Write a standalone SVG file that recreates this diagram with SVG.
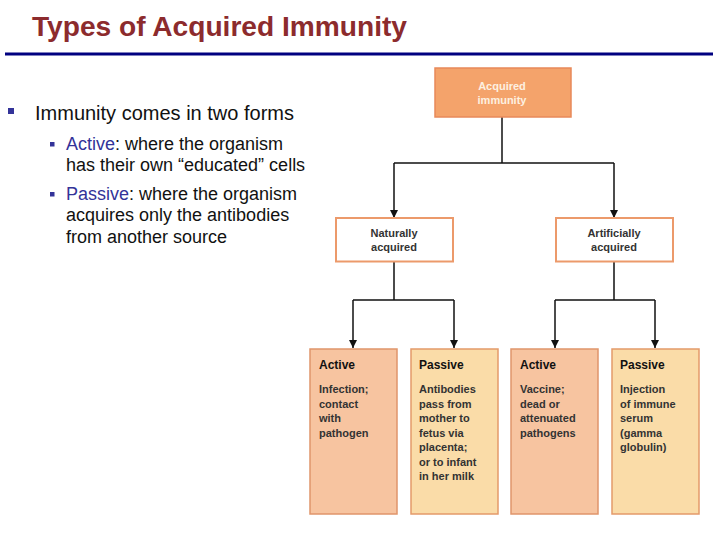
<svg xmlns="http://www.w3.org/2000/svg" width="720" height="540" viewBox="0 0 720 540">
<defs>
<marker id="arr" viewBox="0 0 10 10" refX="10" refY="5" markerWidth="8" markerHeight="8" markerUnits="userSpaceOnUse" orient="auto">
<path d="M0,0 L10,5 L0,10 Z" fill="#111"/>
</marker>
<style>
.t{font-family:"Liberation Sans",Arial,sans-serif}
.title{font-size:27px;font-weight:bold;fill:#8C2B2D}
.b1{font-size:20px;fill:#111}
.b2{font-size:18px;fill:#111}
.em{fill:#333399}
.mid{font-size:11px;font-weight:bold;fill:#333;text-anchor:middle}
.top{font-size:11px;font-weight:bold;fill:#FDF0E0;text-anchor:middle}
.hd{font-size:12px;font-weight:bold;fill:#111}
.bd{font-size:11px;font-weight:bold;fill:#333}
.con{fill:none;stroke:#111;stroke-width:1.5}
.act{fill:#F7C4A0;stroke:#E0956B;stroke-width:1.5}
.pas{fill:#FADCA8;stroke:#E49A6A;stroke-width:1.5}
</style>
</defs>
<rect width="720" height="540" fill="#fff"/>
<text class="t title" x="32" y="36" textLength="375" lengthAdjust="spacingAndGlyphs">Types of Acquired Immunity</text>
<rect x="5" y="52.5" width="708" height="3" fill="#000080"/>
<g id="bullets">
<rect x="8" y="108" width="6" height="6" fill="#333399"/>
<text class="t b1" x="35" y="120">Immunity comes in two forms</text>
<rect x="50" y="142" width="4.5" height="4.5" fill="#333399"/>
<text class="t b2" x="66" y="150"><tspan class="em">Active</tspan>: where the organism</text>
<text class="t b2" x="66" y="171">has their own “educated” cells</text>
<rect x="50" y="192" width="4.5" height="4.5" fill="#333399"/>
<text class="t b2" x="66" y="200"><tspan class="em">Passive</tspan>: where the organism</text>
<text class="t b2" x="66" y="221">acquires only the antibodies</text>
<text class="t b2" x="66" y="243">from another source</text>
</g>
<g id="connectors">
<path class="con" d="M502,117 V163"/>
<path class="con" d="M394,163 H614"/>
<path class="con" d="M394,163 V218" marker-end="url(#arr)"/>
<path class="con" d="M614,163 V218" marker-end="url(#arr)"/>
<path class="con" d="M394,262 V300 M353,300 H454"/>
<path class="con" d="M353,300 V348" marker-end="url(#arr)"/>
<path class="con" d="M454,300 V348" marker-end="url(#arr)"/>
<path class="con" d="M614,262 V300 M555,300 H655"/>
<path class="con" d="M555,300 V348" marker-end="url(#arr)"/>
<path class="con" d="M655,300 V348" marker-end="url(#arr)"/>
</g>
<g id="acquired">
<rect x="435" y="68" width="136" height="49" fill="#F4A36B" stroke="#E8895A" stroke-width="1.5"/>
<text class="t top" x="502" y="90">Acquired</text>
<text class="t top" x="502" y="104">immunity</text>
</g>
<g id="naturally">
<rect x="336" y="218" width="117" height="43.5" fill="#fff" stroke="#EC9A6B" stroke-width="2"/>
<text class="t mid" x="394" y="237">Naturally</text>
<text class="t mid" x="394" y="251">acquired</text>
</g>
<g id="artificially">
<rect x="556" y="218" width="117" height="43.5" fill="#fff" stroke="#EC9A6B" stroke-width="2"/>
<text class="t mid" x="614" y="237">Artificially</text>
<text class="t mid" x="614" y="251">acquired</text>
</g>
<g id="nat-active">
<rect class="act" x="310" y="349" width="87" height="165"/>
<text class="t hd" x="319" y="369">Active</text>
<text class="t bd" x="319" y="393">Infection;</text>
<text class="t bd" x="319" y="407.5">contact</text>
<text class="t bd" x="319" y="422">with</text>
<text class="t bd" x="319" y="436.5">pathogen</text>
</g>
<g id="nat-passive">
<rect class="pas" x="411" y="349" width="87" height="165"/>
<text class="t hd" x="419" y="369">Passive</text>
<text class="t bd" x="419" y="393">Antibodies</text>
<text class="t bd" x="419" y="407.5">pass from</text>
<text class="t bd" x="419" y="422">mother to</text>
<text class="t bd" x="419" y="436.5">fetus via</text>
<text class="t bd" x="419" y="451">placenta;</text>
<text class="t bd" x="419" y="465.5">or to infant</text>
<text class="t bd" x="419" y="480">in her milk</text>
</g>
<g id="art-active">
<rect class="act" x="511" y="349" width="87" height="165"/>
<text class="t hd" x="520" y="369">Active</text>
<text class="t bd" x="520" y="393">Vaccine;</text>
<text class="t bd" x="520" y="407.5">dead or</text>
<text class="t bd" x="520" y="422">attenuated</text>
<text class="t bd" x="520" y="436.5">pathogens</text>
</g>
<g id="art-passive">
<rect class="pas" x="612" y="349" width="87" height="165"/>
<text class="t hd" x="620" y="369">Passive</text>
<text class="t bd" x="620" y="393">Injection</text>
<text class="t bd" x="620" y="407.5">of immune</text>
<text class="t bd" x="620" y="422">serum</text>
<text class="t bd" x="620" y="436.5">(gamma</text>
<text class="t bd" x="620" y="451">globulin)</text>
</g>
</svg>
